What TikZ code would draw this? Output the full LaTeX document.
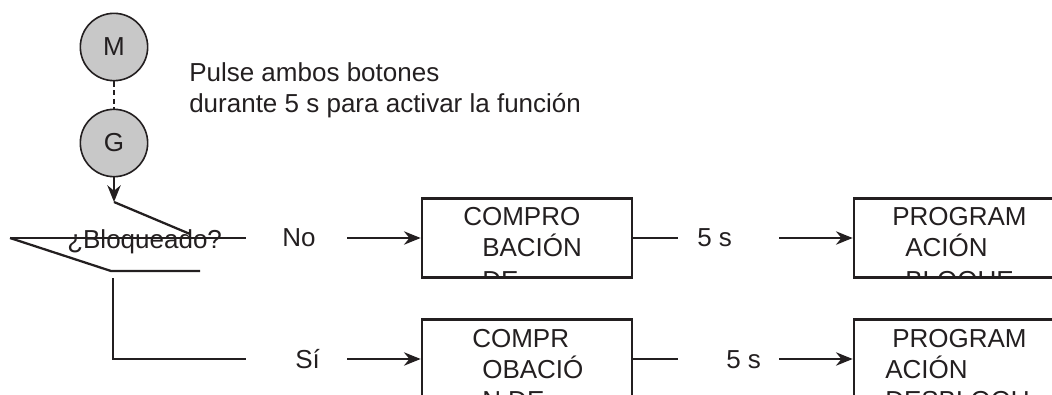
\documentclass[tikz,border=0pt]{standalone}
\usepackage{fontspec}
\setmainfont{Liberation Sans}
\usepackage{xcolor}
\usepackage{tikz}
\usetikzlibrary{arrows.meta}
\definecolor{ink}{RGB}{35,31,32}
\definecolor{knob}{RGB}{200,200,200}

\begin{document}
\begin{tikzpicture}[x=0.75pt,y=-0.75pt,>={Stealth[length=12.5pt,width=10pt]},
    every node/.style={font=\fontsize{19.5}{23.4}\selectfont,text=ink},
    ln/.style={line width=1.7pt,draw=ink},
    btn/.style={circle,draw=ink,fill=knob,line width=1.2pt,minimum size=50.5pt,inner sep=0pt},
    blk/.style={rectangle,draw=ink,line width=2pt,minimum width=157.5pt,minimum height=59.25pt,inner sep=0pt},
    txt/.style={anchor=base west,inner sep=0pt}]
      \useasboundingbox (0,0) rectangle (1052,395);
      \clip (0,0) rectangle (1052,395);
      % buttons
      \node[btn] (M) at (114,47) {M};
      \node[btn] (G) at (114,143) {G};
      \draw[ln,line width=1.3pt,dash pattern=on 4pt off 2.5pt] (M.south) -- (G.north);
      \node[txt] (hint1) at (189,82) {Pulse ambos botones};
      \node[txt] (hint2) at (189,113) {durante 5 s para activar la función};
      % question
      \coordinate (qTop) at (114,202);
      \coordinate (qCut) at (190,234);
      \coordinate (qL) at (10,238);
      \coordinate (qR) at (246,238);
      \coordinate (qBot) at (111,271);
      \coordinate (qBotR) at (200,271);
      \coordinate (qDrop) at (113,278);
      \coordinate (qSi) at (246,359);
      \draw[ln,->] (G.south) -- (qTop);
      \draw[ln] (qTop) -- (qCut);
      \draw[ln] (qL) -- (qR);
      \draw[ln] (qL) -- (qBot) -- (qBotR);
      \draw[ln] (qDrop) |- (qSi);
      \node[txt] (ask) at (67,248) {¿Bloqueado?};
      \node[txt] (no) at (282,247) {No};
      \node[txt] (si) at (295,368) {Sí};
      % boxes
      \node[blk] (chkA) at (527,238) {};
      \node[blk] (prgA) at (959,238) {};
      \node[blk] (chkB) at (527,359) {};
      \node[blk] (prgB) at (959,359) {};
      \begin{scope}
        \clip (chkA.south west) rectangle (chkA.north east);
        \node[txt] (chkA1) at (463,226) {COMPRO};
        \node[txt] (chkA2) at (482,257) {BACIÓN};
        \node[txt] (chkA3) at (482,289) {DE};
      \end{scope}
      \begin{scope}
        \clip (prgA.south west) rectangle (prgA.north east);
        \node[txt] (prgA1) at (892,226) {PROGRAM};
        \node[txt] (prgA2) at (905,257) {ACIÓN};
        \node[txt] (prgA3) at (905,289) {BLOQUE};
      \end{scope}
      \begin{scope}
        \clip (chkB.south west) rectangle (chkB.north east);
        \node[txt] (chkB1) at (472,347) {COMPR};
        \node[txt] (chkB2) at (482,378) {OBACIÓ};
        \node[txt] (chkB3) at (482,409) {N DE};
      \end{scope}
      \begin{scope}
        \clip (prgB.south west) rectangle (prgB.north east);
        \node[txt] (prgB1) at (892,347) {PROGRAM};
        \node[txt] (prgB2) at (885,378) {ACIÓN};
        \node[txt] (prgB3) at (885,409) {DESBLOQU};
      \end{scope}
      % connectors
      \coordinate (noTail) at (347,238);
      \coordinate (siTail) at (347,359);
      \coordinate (waitA) at (678,238);
      \coordinate (waitB) at (678,359);
      \coordinate (goA) at (779,238);
      \coordinate (goB) at (779,359);
      \node[txt] (secA) at (697,247) {5 s};
      \node[txt] (secB) at (726,368) {5 s};
      \draw[ln,->] (noTail) -- (chkA.west);
      \draw[ln,->] (siTail) -- (chkB.west);
      \draw[ln] (chkA.east) -- (waitA);
      \draw[ln] (chkB.east) -- (waitB);
      \draw[ln,->] (goA) -- (prgA.west);
      \draw[ln,->] (goB) -- (prgB.west);
    \end{tikzpicture}
\end{document}
